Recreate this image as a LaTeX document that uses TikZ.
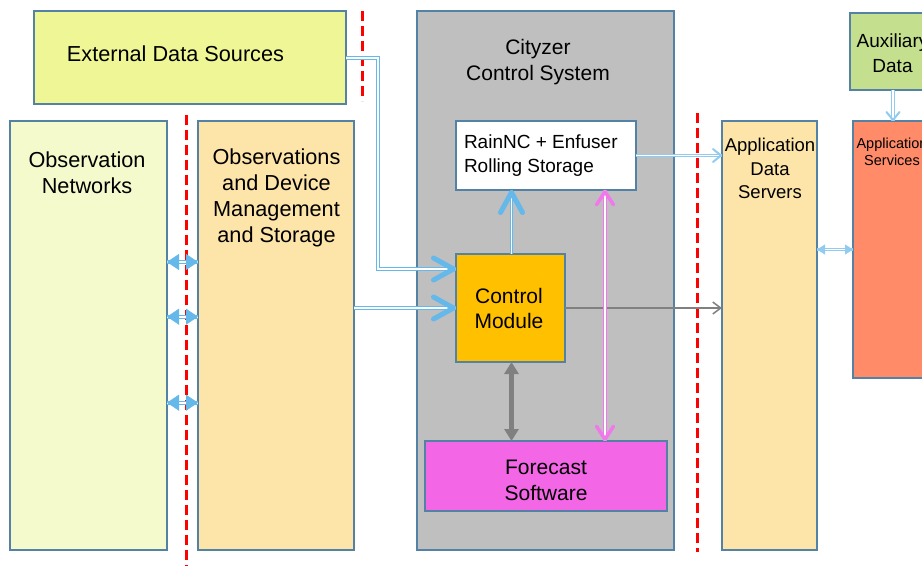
\documentclass[tikz,border=0pt]{standalone}
\usepackage{fontspec}
\setmainfont{Liberation Sans}
\usetikzlibrary{arrows.meta,calc}
\definecolor{bord}{RGB}{84,130,165}
\definecolor{extc}{RGB}{238,246,150}
\definecolor{obsnc}{RGB}{245,250,205}
\definecolor{obsmc}{RGB}{253,228,168}
\definecolor{cityc}{RGB}{191,191,191}
\definecolor{ctrlc}{RGB}{255,192,0}
\definecolor{fcc}{RGB}{243,102,230}
\definecolor{auxc}{RGB}{196,224,143}
\definecolor{appsc}{RGB}{255,139,105}
\definecolor{bl}{RGB}{100,184,234}
\definecolor{lbl}{RGB}{145,203,240}
\definecolor{magc}{RGB}{240,120,235}
\definecolor{grc}{RGB}{128,128,128}
\begin{document}
\begin{tikzpicture}[x=1pt,y=-1pt,
  box/.style={draw=bord, line width=1.3pt, rectangle, inner sep=0pt, outer sep=0pt},
  txt/.style={inner sep=0pt, outer sep=0pt, align=center, anchor=north, font=\fontsize{21.7}{26}\selectfont},
  redline/.style={draw=red, line width=3pt, dash pattern=on 10pt off 5pt},
  bshaft/.style={draw=bl, double=white, line width=1.1pt, double distance=1.6pt},
  lshaft/.style={draw=lbl, double=white, line width=1.1pt, double distance=1.6pt},
  mshaft/.style={draw=magc, double=white, line width=1.1pt, double distance=1.6pt},
  chev/.style={draw=bl, line width=0.4pt, -{Straight Barb[length=20pt, width=22pt, line width=5pt, round]}},
  mchev/.style={draw=magc, line width=0.4pt, -{Straight Barb[length=13pt, width=17pt, line width=3.5pt, round]}},
  lchev/.style={draw=lbl, line width=0.4pt, -{Straight Barb[length=8pt, width=13pt, line width=2pt, round]}},
  btri/.style={draw=bl, fill=bl, line width=0.4pt, -{Triangle[length=12pt, width=16pt]}},
  ltri/.style={draw=lbl, fill=lbl, line width=0.4pt, -{Triangle[length=8pt, width=10pt]}},
]
\clip (0,0) rectangle (922,566);
\fill[white] (0,0) rectangle (922,566);

% boxes
\node[box, fill=cityc, minimum width=257pt, minimum height=539pt] (city) at (545.5,280.5) {};
\node[box, fill=extc, minimum width=312pt, minimum height=93pt] (ext) at (190,57.5) {};
\node[box, fill=obsnc, minimum width=157pt, minimum height=429pt] (obsn) at (88.5,335.5) {};
\node[box, fill=obsmc, minimum width=156pt, minimum height=429pt] (obsm) at (276,335.5) {};
\node[box, fill=white, minimum width=180pt, minimum height=69pt] (rain) at (546,155.5) {};
\node[box, fill=ctrlc, minimum width=109pt, minimum height=108pt] (ctrl) at (510.5,308) {};
\node[box, fill=fcc, minimum width=242pt, minimum height=70pt] (fc) at (546,476) {};
\node[box, fill=obsmc, minimum width=95pt, minimum height=429pt] (appd) at (769.5,335.5) {};
\node[box, fill=auxc, minimum width=85pt, minimum height=77pt] (aux) at (892.5,51.5) {};
\node[box, fill=appsc, minimum width=77pt, minimum height=257pt] (apps) at (891.5,249.5) {};

% texts
\node[txt] (ext-t) at (175.5,46) {External Data Sources};
\node[txt] (obsn-t) at (87,151.5) {Observation\\Networks};
\node[txt] (obsm-t) at (276.5,149) {Observations\\and Device\\Management\\and Storage};
\node[txt, font=\fontsize{21}{26}\selectfont] (city-t) at (538,39) {Cityzer\\Control System};
\node[txt, anchor=north west, align=left, font=\fontsize{19}{24}\selectfont] (rain-t) at (464,135) {RainNC + Enfuser\\Rolling Storage};
\node[txt, font=\fontsize{21}{25}\selectfont] (ctrl-t) at (509,288.3) {Control\\Module};
\node[txt, font=\fontsize{21}{26}\selectfont] (fc-t) at (546,460) {Forecast\\Software};
\node[txt, font=\fontsize{18.5}{23.3}\selectfont] (appd-t) at (770,138.3) {Application\\Data\\Servers};
\node[txt, font=\fontsize{19}{25}\selectfont] (aux-t) at (892.5,33.3) {Auxiliary\\Data};
\node[txt, font=\fontsize{14.5}{17}\selectfont] (apps-t) at (892,138.3) {Application\\Services};

% red dashed separators
\coordinate (r1a) at (362,11); \coordinate (r1b) at (362,101);
\coordinate (r2a) at (186,115); \coordinate (r2b) at (186,566);
\coordinate (r3a) at (697,113); \coordinate (r3b) at (697,552);
\draw[redline] (r1a) -- (r1b);
\draw[redline] (r2a) -- (r2b);
\draw[redline] (r3a) -- (r3b);

% Ext -> Control
\coordinate (c1) at ($(ctrl.west)+(0,-39)$);
\draw[bshaft] (ext.east |- 0,58) -- (378,58) |- (c1);
\draw[chev] ($(c1)+(-1,0)$) -- (c1);
% ObsMgmt -> Control
\draw[bshaft] (ctrl.west -| obsm.east) -- (ctrl.west);
\draw[chev] ($(ctrl.west)+(-1,0)$) -- (ctrl.west);
% Control -> RainNC
\coordinate (c2) at (ctrl.north -| 511.5,0);
\coordinate (c3) at (rain.south -| 511.5,0);
\draw[bshaft] (c2) -- (c3);
\draw[chev] ($(c3)+(0,1)$) -- (c3);
% RainNC -> AppData
\draw[lshaft] (rain.east) -- (rain.east -| appd.west);
\draw[lchev] ($(rain.east -| appd.west)+(-1,0)$) -- (rain.east -| appd.west);
% Control -> AppData (grey)
\draw[draw=grc, line width=1.3pt, -{Straight Barb[length=8pt, width=12pt, line width=1.5pt]}] (ctrl.east) -- (ctrl.east -| appd.west);
% Control <-> Forecast
\draw[draw=grc, line width=4.5pt, {Triangle[length=12pt, width=14pt]}-{Triangle[length=12pt, width=14pt]}] (ctrl.south -| 511.5,0) -- (fc.north -| 511.5,0);
% RainNC <-> Forecast (magenta)
\coordinate (m1) at (rain.south -| 605,0);
\coordinate (m2) at (fc.north -| 605,0);
\draw[mshaft] (m1) -- (m2);
\draw[mchev] ($(m1)+(0,1)$) -- (m1);
\draw[mchev] ($(m2)+(0,-1)$) -- (m2);
% ObsNetworks <-> ObsMgmt
\foreach \yy/\nm in {262/a,316.7/b,402.7/c}{
  \coordinate (L\nm) at (obsn.east |- 0,\yy);
  \coordinate (R\nm) at (obsm.west |- 0,\yy);
  \draw[bshaft] (L\nm) -- (R\nm);
  \draw[btri] ($(L\nm)+(1,0)$) -- (L\nm);
  \draw[btri] ($(R\nm)+(-1,0)$) -- (R\nm);
}
% AppData <-> AppServices
\coordinate (s1) at (appd.east |- 0,249.5);
\coordinate (s2) at (apps.west |- 0,249.5);
\draw[lshaft] (s1) -- (s2);
\draw[ltri] ($(s1)+(1,0)$) -- (s1);
\draw[ltri] ($(s2)+(-1,0)$) -- (s2);
% Aux -> AppServices
\coordinate (x1) at (aux.south -| 893,0);
\coordinate (x2) at (apps.north -| 893,0);
\draw[lshaft] (x1) -- (x2);
\draw[lchev] ($(x2)+(0,-1)$) -- (x2);
\end{tikzpicture}
\end{document}
